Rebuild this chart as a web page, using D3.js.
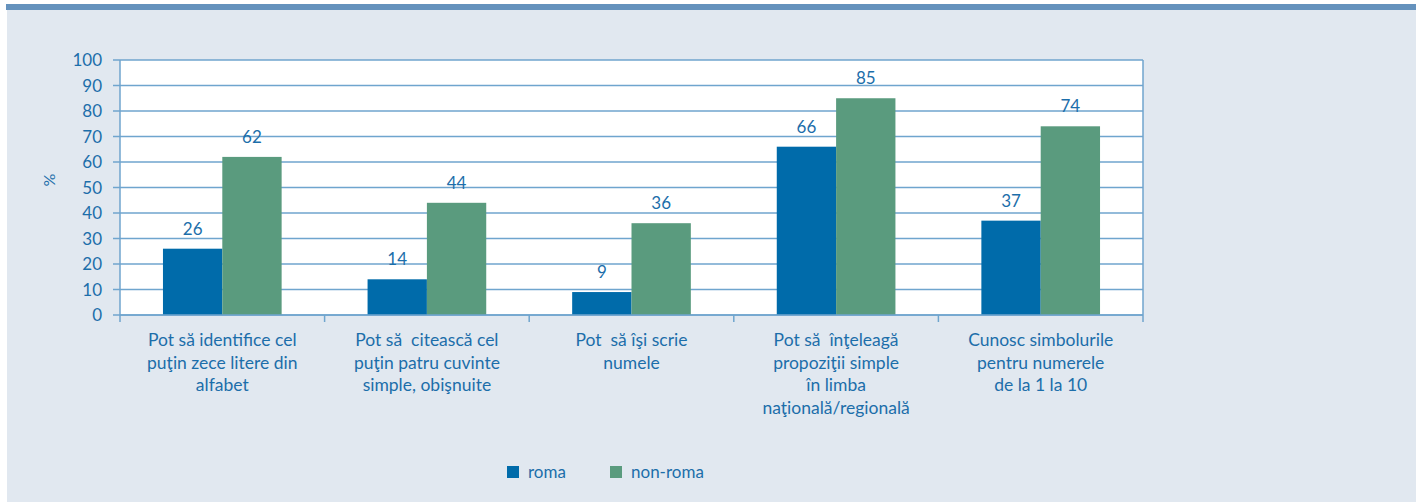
<html>
<head>
<script src="https://d3js.org/d3.v7.min.js"></script>
<style>
	body {margin: 0; background: #fff;}
	text {font-family: Lato, "Open Sans", sans-serif; fill: #1c6eaa;}
</style>
</head>
<body>
<div id="chart"></div>
<script>
// data
var categories = [
	["Pot să identifice cel", "puţin zece litere din", "alfabet"],
	["Pot să  citească cel", "puţin patru cuvinte", "simple, obişnuite"],
	["Pot  să îşi scrie", "numele"],
	["Pot să  înţeleagă", "propoziţii simple", "în limba", "naţională/regională"],
	["Cunosc simbolurile", "pentru numerele", "de la 1 la 10"]
];
var roma = [26, 14, 9, 66, 37];
var nonRoma = [62, 44, 36, 85, 74];
var seriesNames = ["roma", "non-roma"];
var seriesColors = ["#006baa", "#5a9b7e"];
var yTicks = [0, 10, 20, 30, 40, 50, 60, 70, 80, 90, 100];

var width = 1416, height = 502;
var svg = d3.select("#chart").append("svg")
	.attr("width", width)
	.attr("height", height);

// panel background and top band
svg.append("rect").attr("x", 7).attr("y", 9).attr("width", width - 7).attr("height", height - 9)
	.style("fill", "#e1e8f0");
svg.append("rect").attr("x", 6).attr("y", 4).attr("width", width - 6).attr("height", 6)
	.style("fill", "#6592bd");

var plotL = 120, plotR = 1143, plotT = 60, plotB = 315;
var axisColor = "#6fa5ce";

svg.append("rect").attr("x", plotL).attr("y", plotT).attr("width", plotR - plotL).attr("height", plotB - plotT)
	.style("fill", "#fff");

var x = d3.scaleBand().domain(d3.range(categories.length)).range([plotL, plotR]);
var y = d3.scaleLinear().domain([0, 100]).range([plotB, plotT]);

// gridlines
svg.selectAll(".grid").data(yTicks).enter().append("line")
	.attr("x1", plotL - 7).attr("x2", plotR)
	.attr("y1", function(d) { return y(d); })
	.attr("y2", function(d) { return y(d); })
	.style("stroke", axisColor).style("stroke-width", 1.5);

// y tick labels
svg.selectAll(".ylab").data(yTicks).enter().append("text")
	.attr("x", 102)
	.attr("y", function(d) { return y(d) + 6; })
	.attr("text-anchor", "end")
	.style("font-size", "17px")
	.text(function(d) { return d; });

// axes lines
svg.append("line").attr("x1", plotL).attr("x2", plotL).attr("y1", plotT).attr("y2", plotB + 7)
	.style("stroke", axisColor).style("stroke-width", 1.5);
svg.append("line").attr("x1", plotR).attr("x2", plotR).attr("y1", plotT).attr("y2", plotB + 7)
	.style("stroke", axisColor).style("stroke-width", 1.5);
svg.selectAll(".xtick").data(d3.range(1, categories.length)).enter().append("line")
	.attr("x1", function(d) { return x(d); })
	.attr("x2", function(d) { return x(d); })
	.attr("y1", plotB).attr("y2", plotB + 7)
	.style("stroke", axisColor).style("stroke-width", 1.5);

// "%" title
svg.append("text")
	.attr("transform", "translate(55,180) rotate(-90)")
	.attr("text-anchor", "middle")
	.style("font-size", "16px")
	.text("%");

// bars
var barW = x.bandwidth() * 0.29;
var series = [roma, nonRoma];
series.forEach(function(vals, s) {
	vals.forEach(function(v, i) {
		var bx = x(i) + x.bandwidth() / 2 - barW + s * barW;
		svg.append("rect")
			.attr("x", bx)
			.attr("y", y(v))
			.attr("width", barW)
			.attr("height", y(0) - y(v))
			.style("fill", seriesColors[s]);
		svg.append("text")
			.attr("x", bx + barW / 2)
			.attr("y", y(v) - 14)
			.attr("text-anchor", "middle")
			.style("font-size", "17px")
			.text(v);
	});
});

// bottom axis line
svg.append("line").attr("x1", plotL).attr("x2", plotR).attr("y1", plotB).attr("y2", plotB)
	.style("stroke", axisColor).style("stroke-width", 1.5);

// category labels
categories.forEach(function(lines, i) {
	var t = svg.append("text")
		.attr("text-anchor", "middle")
		.style("font-size", "17.5px")
		.style("white-space", "pre");
	lines.forEach(function(l, k) {
		t.append("tspan")
			.attr("x", x(i) + x.bandwidth() / 2)
			.attr("y", 346 + k * 22.7)
			.text(l);
	});
});

// legend
var legX = [507, 610];
seriesNames.forEach(function(n, s) {
	svg.append("rect").attr("x", legX[s]).attr("y", 466).attr("width", 12).attr("height", 12)
		.style("fill", seriesColors[s]);
	svg.append("text").attr("x", legX[s] + 21).attr("y", 478)
		.style("font-size", "17px")
		.text(n);
});
</script>
</body>
</html>
